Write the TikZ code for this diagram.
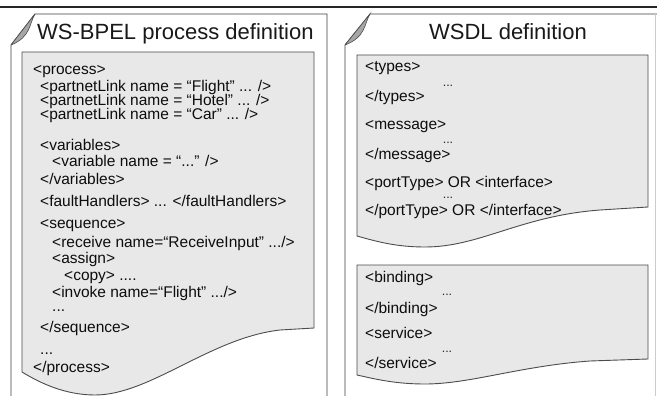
\documentclass[tikz,border=0pt]{standalone}
\usepackage{fontspec}
\setmainfont{Liberation Sans}
\begin{document}
\begin{tikzpicture}[x=1pt,y=-1pt,
  page/.style={draw=black!75, line width=0.9pt},
  codebox/.style={draw=black!70, fill=black!9, line width=0.9pt},
  curl/.style={fill=black!35, draw=black!70, line width=0.6pt},
  code/.style={anchor=base west, inner sep=0pt, font=\fontsize{15.5}{17}\selectfont, text=black!95},
  title/.style={anchor=base west, inner sep=0pt, font=\fontsize{22}{24}\selectfont, text=black!90},
  dots/.style={anchor=center, inner sep=0pt, font=\fontsize{12.5}{14}\selectfont, text=black!85}]
\useasboundingbox (0,0) rectangle (657,396);
\fill[white] (0,0) rectangle (657,396);
% top rule
\draw[line width=1.3pt, black!85] (0,7) -- (657,7);

% left page with curled corner
\draw[page] (11,396) -- (11,45) -- (35,14) -- (327,14) -- (327,396);
\filldraw[curl] (11,45) -- (35,14) .. controls (29,24) and (31,37) .. (11,45);
\filldraw[codebox] (22,372) -- (22,52) -- (314,52) -- (314,328) -- (280,330)
  .. controls (210,338) and (150,395) .. (95,395)
  .. controls (65,395) and (40,383) .. (22,372) -- cycle;

% right page with curled corner
\draw[page] (345,396) -- (345,45) -- (370,14) -- (657,14);
\draw[black!20, line width=0.8pt] (655,14) -- (655,396);
\filldraw[curl] (345,45) -- (370,14) .. controls (364,24) and (366,37) .. (345,45);
\filldraw[codebox] (357,236) -- (357,55) -- (648,55) -- (648,207) -- (600,210)
  .. controls (520,216) and (480,247) .. (425,247)
  .. controls (395,247) and (375,241) .. (357,236) -- cycle;
\filldraw[codebox] (357,375) -- (357,265) -- (648,265) -- (648,359) -- (590,361)
  .. controls (520,366) and (470,384) .. (425,384)
  .. controls (395,384) and (375,379) .. (357,375) -- cycle;

% titles
\node[title] (bpeltitle) at (37,40) {WS-BPEL process definition};
\node[title, anchor=base] (wsdltitle) at (508,40) {WSDL definition};

% BPEL code
\node[code] (l1) at (33,75) {<process>};
\node[code] (l2) at (40,92) {<partnetLink name = “Flight” ... />};
\node[code] (l3) at (40,106) {<partnetLink name = “Hotel” ... />};
\node[code] (l4) at (40,120) {<partnetLink name = “Car” ... />};
\node[code] (l5) at (40,150) {<variables>};
\node[code] (l6) at (52,167) {<variable name = “...” />};
\node[code] (l7) at (40,185) {</variables>};
\node[code] (l8) at (40,207) {<faultHandlers> ... </faultHandlers>};
\node[code] (l9) at (40,229) {<sequence>};
\node[code] (l10) at (52,247) {<receive name=“ReceiveInput” .../>};
\node[code] (l11) at (52,263) {<assign>};
\node[code] (l12) at (64,280) {<copy> ....};
\node[code] (l13) at (52,297) {<invoke name=“Flight” .../>};
\node[code] (l14) at (52,311) {...};
\node[code] (l15) at (40,332) {</sequence>};
\node[code] (l16) at (40,354) {...};
\node[code] (l17) at (33,372) {</process>};

% WSDL code
\node[code] (r1) at (365,72) {<types>};
\node[dots] (d1) at (448,86) {...};
\node[code] (r2) at (365,102) {</types>};
\node[code] (r3) at (365,130) {<message>};
\node[dots] (d2) at (448,143) {...};
\node[code] (r4) at (365,160) {</message>};
\node[code] (r5) at (365,187) {<portType> OR <interface>};
\node[dots] (d3) at (448,198) {...};
\node[code] (r6) at (365,215) {</portType> OR </interface>};
\node[code] (r7) at (365,282) {<binding>};
\node[dots] (d4) at (447,295) {...};
\node[code] (r8) at (365,313) {</binding>};
\node[code] (r9) at (365,338) {<service>};
\node[dots] (d5) at (447,352) {...};
\node[code] (r10) at (365,368) {</service>};
\end{tikzpicture}
\end{document}
